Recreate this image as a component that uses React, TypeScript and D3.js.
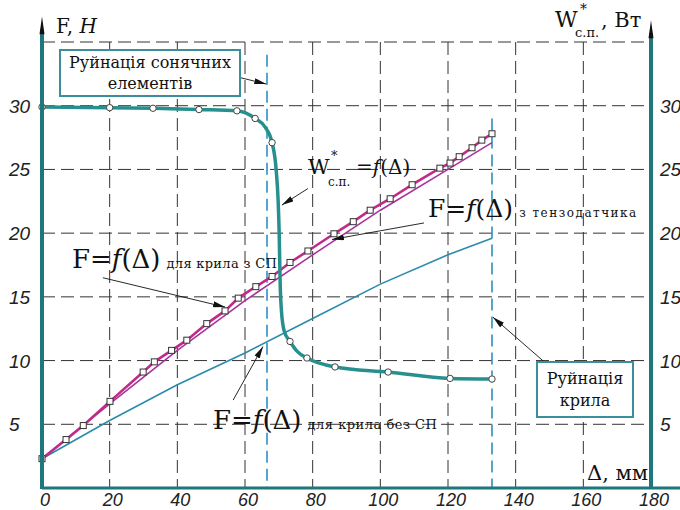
import React from "react";
import * as d3 from "d3";

// осі
const xTicks = [0, 20, 40, 60, 80, 100, 120, 140, 160, 180];
const yTicks = [5, 10, 15, 20, 25, 30];
const xGrid = [20, 40, 60, 80, 100, 120, 140, 160];
const yGrid = [5, 10, 15, 20, 25, 30, 35];

// W*с.п. = f(Δ)
const wCurve: [number, number][] = [
  [0, 29.9], [20, 29.85], [32.8, 29.8], [46.4, 29.7], [57.6, 29.6], [63, 29.0],
  [66, 28.3], [68, 27.1], [69.2, 25], [69.8, 22.5], [70.1, 20], [70.4, 16],
  [70.8, 13.8], [71.6, 12.3], [73.3, 11.5], [75.5, 10.7], [78.3, 10.2],
  [86.6, 9.5], [102.3, 9.1], [120.6, 8.6], [133, 8.55],
];
const wMarkers: [number, number][] = [
  [0, 29.9], [20, 29.85], [32.8, 29.8], [46.4, 29.7], [57.6, 29.6], [63, 29.0],
  [68, 27.1], [73.3, 11.5], [78.3, 10.2], [86.6, 9.5], [102.3, 9.1], [120.6, 8.6],
  [133, 8.55],
];

// F = f(Δ) для крила з СП
const fWith: [number, number][] = [
  [0, 2.3], [7.1, 3.8], [12.2, 4.9], [20.1, 6.8], [29.9, 9.1], [33.2, 9.9],
  [38.3, 10.8], [42.8, 11.6], [48.7, 12.9], [54.1, 13.9], [58, 14.9], [63.2, 15.8],
  [68, 16.6], [73.3, 17.7], [78.6, 18.6], [86.3, 19.95], [92, 20.9], [97, 21.8],
  [102.9, 22.7], [109.4, 23.8], [117.6, 25.1], [120.6, 25.5], [123.3, 26.0],
  [127.1, 26.7], [130, 27.3], [133, 27.8],
];

// F = f(Δ) з тензодатчика
const fTenso: [number, number][] = [
  [0, 2.3], [20, 6.6], [40, 10.8], [60, 14.7], [80, 18.3], [100, 21.8],
  [120, 25.0], [133, 27.1],
];

// F = f(Δ) для крила без СП
const fWithout: [number, number][] = [
  [0, 2.3], [20, 5.3], [40, 8.1], [60, 10.6], [80, 13.3], [100, 16.0],
  [120, 18.3], [133, 19.6],
];

// руйнація
const breaks = [
  { x: 66.5, top: 34 },
  { x: 133, top: 29 },
];

// стрілки-виноски
const arrows: { from: [number, number]; to: [number, number] }[] = [
  { from: [55.6, 32.4], to: [66.3, 31.7] },
  { from: [78.6, 23.5], to: [70.9, 22.2] },
  { from: [112.9, 20.8], to: [85.7, 19.5] },
  { from: [18, 16.5], to: [54.1, 14.2] },
  { from: [56.5, 6.9], to: [65.3, 11.1] },
  { from: [149.3, 9.7], to: [133.3, 13.4] },
];

const serif = { fontFamily: "\"DejaVu Serif\", serif" };
const cad = { fontFamily: "\"Liberation Sans\", Arial, sans-serif" };
const axisColor = "#1f777c";

export default function App() {
  const width = 680;
  const height = 510;

  const x = d3.scaleLinear().domain([0, 180]).range([42, 651]);
  const y = d3.scaleLinear().domain([0, 35]).range([488, 42]);

  const line = d3
    .line<[number, number]>()
    .x((d) => x(d[0]))
    .y((d) => y(d[1]));
  const smooth = d3
    .line<[number, number]>()
    .x((d) => x(d[0]))
    .y((d) => y(d[1]))
    .curve(d3.curveMonotoneX);

  const fLabel = (big: number, small: number, note: string, spacing: number) => (
    <>
      <tspan fontSize={big}>F=</tspan>
      <tspan fontSize={big} fontStyle="italic">f</tspan>
      <tspan fontSize={big}>(Δ)</tspan>
      <tspan fontSize={small} dx={6} letterSpacing={spacing}>{note}</tspan>
    </>
  );

  return (
    <svg
      width={width}
      height={height}
      style={{ position: "absolute", left: 0, top: 0, background: "#fff" }}
    >
      <defs>
        <marker
          id="arr"
          viewBox="0 0 12 6"
          refX={12}
          refY={3}
          markerWidth={12}
          markerHeight={6}
          markerUnits="userSpaceOnUse"
          orient="auto"
        >
          <path d="M0,0 L12,3 L0,6 Z" fill="#111" />
        </marker>
      </defs>

      {/* сітка */}
      {yGrid.map((t) => (
        <line
          key={"h" + t}
          x1={x(0)}
          x2={x(180)}
          y1={y(t)}
          y2={y(t)}
          stroke="#333"
          strokeDasharray="13 6"
        />
      ))}
      {xGrid.map((t) => (
        <line
          key={"v" + t}
          x1={x(t)}
          x2={x(t)}
          y1={y(35)}
          y2={y(0)}
          stroke="#333"
          strokeDasharray="13 6"
        />
      ))}

      {/* лінії руйнації */}
      {breaks.map((b) => (
        <line
          key={b.x}
          x1={x(b.x)}
          x2={x(b.x)}
          y1={y(b.top)}
          y2={y(0)}
          stroke="#2f8fc4"
          strokeWidth={1.6}
          strokeDasharray="12 6"
        />
      ))}

      {/* криві */}
      <path d={line(fWithout) ?? ""} fill="none" stroke="#2b8aae" strokeWidth={1.6} />
      <path d={line(fTenso) ?? ""} fill="none" stroke="#a8329c" strokeWidth={1.6} />
      <path d={line(fWith) ?? ""} fill="none" stroke="#c02a88" strokeWidth={2.6} />
      <path d={smooth(wCurve) ?? ""} fill="none" stroke="#27908f" strokeWidth={3.5} />

      {fWith.map((d, i) => (
        <rect
          key={"s" + i}
          x={x(d[0]) - 3}
          y={y(d[1]) - 3}
          width={6}
          height={6}
          fill="#fff"
          stroke="#333"
          strokeWidth={1}
        />
      ))}
      {wMarkers.map((d, i) => (
        <circle
          key={"c" + i}
          cx={x(d[0])}
          cy={y(d[1])}
          r={3.2}
          fill="#fff"
          stroke="#444"
          strokeWidth={1}
        />
      ))}

      {/* осі */}
      <line x1={x(0)} x2={680} y1={y(0)} y2={y(0)} stroke={axisColor} strokeWidth={3} />
      <line x1={x(0)} x2={x(0)} y1={y(0) + 1} y2={y(36)} stroke={axisColor} strokeWidth={4} />
      <line x1={x(180)} x2={x(180)} y1={y(0) + 1} y2={y(35.7)} stroke={axisColor} strokeWidth={4} />
      <path
        d={`M${x(0)},${y(37)} L${x(0) - 2.5},${y(35.6)} L${x(0) + 2.5},${y(35.6)} Z`}
        fill="#111"
      />
      <path
        d={`M${x(180)},${y(36.7)} L${x(180) - 2.5},${y(35.3)} L${x(180) + 2.5},${y(35.3)} Z`}
        fill="#111"
      />

      {/* підписи поділок */}
      <g style={cad} fontStyle="italic" fill="#222">
        {yTicks.map((t) => (
          <g key={"yl" + t} fontSize={19}>
            <text x={9} y={y(t) + 7}>{t}</text>
            <text x={660} y={y(t) + 7}>{t}</text>
          </g>
        ))}
        {xTicks.map((t) => (
          <text key={"xl" + t} x={x(t) + 3} y={506} textAnchor="middle" fontSize={18}>
            {t}
          </text>
        ))}
      </g>

      <g style={serif} fill="#111">
        {/* назви осей */}
        <text x={56} y={33} fontSize={20}>
          F, <tspan fontStyle="italic">H</tspan>
        </text>
        <text x={555} y={27} fontSize={22}>W</text>
        <text x={580} y={14} fontSize={14}>*</text>
        <text x={575} y={37} fontSize={13}>с.п.</text>
        <text x={601} y={27} fontSize={21}>, Вт</text>
        <text x={587} y={480} fontSize={21}>Δ, мм</text>
      </g>

      {/* стрілки */}
      {arrows.map((a, i) => (
        <line
          key={"a" + i}
          x1={x(a.from[0])}
          y1={y(a.from[1])}
          x2={x(a.to[0])}
          y2={y(a.to[1])}
          stroke="#111"
          strokeWidth={0.9}
          markerEnd="url(#arr)"
        />
      ))}

      {/* рамки */}
      <rect x={60} y={50} width={180} height={46} fill="#fff" stroke="#3b8e9c" strokeWidth={2} />
      <rect x={537} y={362} width={96} height={55} fill="#fff" stroke="#3b8e9c" strokeWidth={2} />
      <g style={serif} fill="#111" fontSize={16} textAnchor="middle">
        <text x={150} y={68}>Руйнація сонячних</text>
        <text x={150} y={89}>елементів</text>
        <text x={585} y={384}>Руйнація</text>
        <text x={585} y={406}>крила</text>
      </g>

      {/* підписи кривих */}
      <g style={serif} fill="#111">
        <text x={308} y={174} fontSize={21}>W</text>
        <text x={331} y={160} fontSize={13}>*</text>
        <text x={328} y={186} fontSize={12}>с.п.</text>
        <text x={356} y={174} fontSize={20}>
          =<tspan fontStyle="italic">f</tspan>(Δ)
        </text>

        <text x={428} y={217}>{fLabel(25, 12, "з тензодатчика", 1.5)}</text>
        <text x={72} y={268}>{fLabel(26, 13, "для крила з СП", 0.3)}</text>
        <text x={213} y={429}>{fLabel(26, 13, "для крила без СП", 0.5)}</text>
      </g>
    </svg>
  );
}
